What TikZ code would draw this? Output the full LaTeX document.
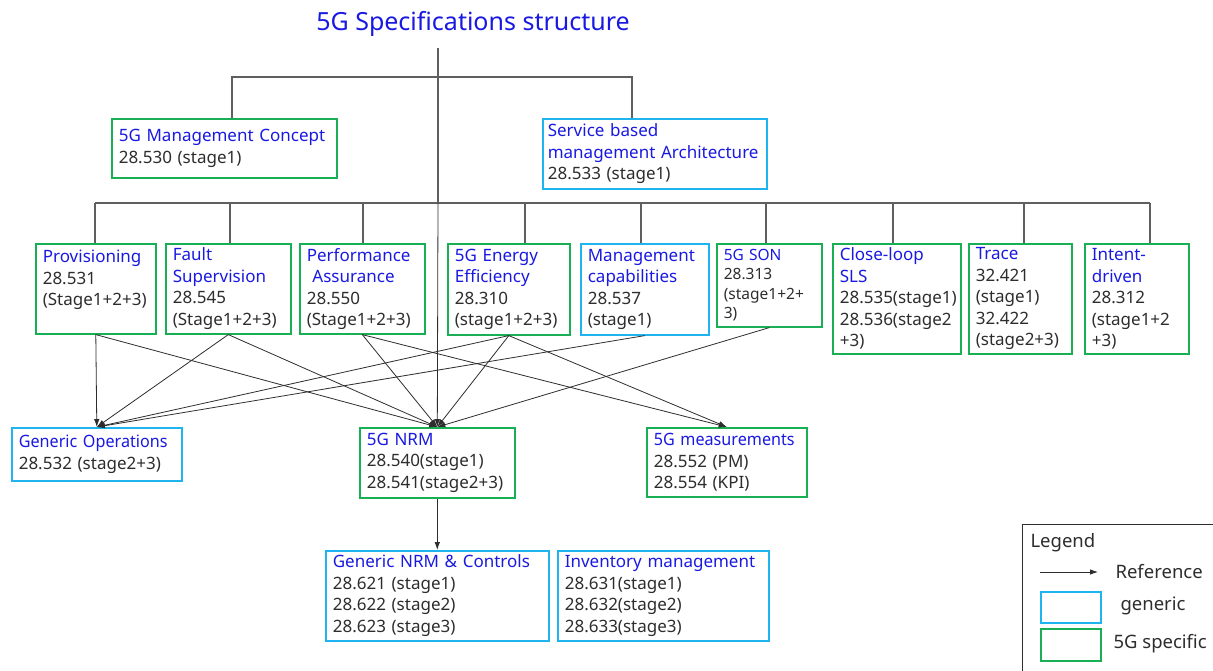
\documentclass[tikz,border=0pt]{standalone}
\usepackage{fontspec}
\setmainfont{Noto Sans}
\newfontfamily\narrowfont[FakeStretch=0.95]{Noto Sans}
\usepackage{xcolor}
\usepackage{tikz}
\usetikzlibrary{arrows.meta}
\definecolor{specblue}{RGB}{25,25,225}
\definecolor{genericcyan}{RGB}{30,180,240}
\definecolor{specgreen}{RGB}{25,175,85}
\definecolor{treegray}{RGB}{95,95,95}
\definecolor{bodygray}{RGB}{45,45,45}

\begin{document}
\begin{tikzpicture}[x=1pt,y=-1pt,every path/.style={>={Latex[length=8pt,width=5.5pt]}},
    box/.style={draw,line width=1.6pt,anchor=north west,align=left,inner xsep=7pt,inner ysep=3pt,font=\fontsize{17}{21.5}\selectfont,text=bodygray},
    genbox/.style={box,draw=genericcyan},
    fivegbox/.style={box,draw=specgreen},
    tree/.style={draw=treegray,line width=1.6pt},
    ref/.style={->,draw=bodygray,line width=0.8pt},
    legendtext/.style={anchor=west,font=\fontsize{18.5}{22}\selectfont,text=bodygray}]
    \useasboundingbox (0,0) rectangle (1213,670);
    \clip (0,0) rectangle (1213,670);

    \node[font=\fontsize{25}{30}\selectfont,text=specblue] (title) at (473,24) {5G Specifications structure};

    % first level
    \node[fivegbox,text width=211pt,minimum height=59pt] (concept) at (111,118) {\textcolor{specblue}{5G Management Concept}\\28.530 (stage1)};
    \node[genbox,inner xsep=5pt,text width=214pt,minimum height=70pt] (sba) at (542,118) {\textcolor{specblue}{Service based}\\\textcolor{specblue}{management Architecture}\\28.533 (stage1)};

    % second level
    \node[fivegbox,text width=106pt,minimum height=90pt] (prov) at (35,243) {\textcolor{specblue}{Provisioning}\\28.531\\(Stage1+2+3)\\~};
    \node[fivegbox,text width=111pt,minimum height=90pt] (fs) at (165,243) {\textcolor{specblue}{Fault}\\\textcolor{specblue}{Supervision}\\28.545\\(Stage1+2+3)};
    \node[fivegbox,text width=111pt,minimum height=90pt] (pa) at (299,243) {\textcolor{specblue}{Performance}\\\textcolor{specblue}{\ Assurance}\\28.550\\(Stage1+2+3)};
    \node[fivegbox,text width=108pt,minimum height=91pt] (ee) at (447,243) {\textcolor{specblue}{5G Energy}\\\textcolor{specblue}{Efficiency}\\28.310\\(stage1+2+3)};
    \node[genbox,text width=114pt,minimum height=91pt] (mc) at (580,243) {\textcolor{specblue}{Management}\\\textcolor{specblue}{capabilities}\\28.537\\(stage1)};
    \node[fivegbox,text width=91pt,minimum height=83pt,font=\fontsize{15.5}{19.5}\selectfont] (son) at (716,243) {\textcolor{specblue}{5G SON}\\28.313\\(stage1+2+\\3)};
    \node[fivegbox,text width=114pt,minimum height=110pt] (cl) at (832,243) {\textcolor{specblue}{Close-loop}\\\textcolor{specblue}{SLS}\\28.535(stage1)\\28.536(stage2\\+3)};
    \node[fivegbox,text width=89pt,minimum height=110pt] (trace) at (968,243) {\textcolor{specblue}{Trace}\\32.421\\(stage1)\\32.422\\(stage2+3)};
    \node[fivegbox,text width=90pt,minimum height=110pt] (intent) at (1084,243) {\textcolor{specblue}{Intent-}\\\textcolor{specblue}{driven}\\28.312\\(stage1+2\\+3)};

    % third level
    \node[genbox,text width=156pt,minimum height=53pt] (genops) at (11,427) {\textcolor{specblue}{\narrowfont Generic Operations}\\28.532 (stage2+3)};
    \node[fivegbox,text width=141pt,minimum height=70pt] (nrm) at (359,427) {\textcolor{specblue}{5G NRM}\\28.540(stage1)\\28.541(stage2+3)};
    \node[fivegbox,text width=146pt,minimum height=69pt] (meas) at (646,427) {\textcolor{specblue}{\narrowfont 5G measurements}\\28.552 (PM)\\28.554 (KPI)};

    % fourth level
    \node[genbox,text width=209pt,minimum height=90pt] (gnc) at (325,550) {\textcolor{specblue}{Generic NRM \& Controls}\\28.621 (stage1)\\28.622 (stage2)\\28.623 (stage3)};
    \node[genbox,text width=197pt,minimum height=90pt] (inv) at (557,550) {\textcolor{specblue}{Inventory management}\\28.631(stage1)\\28.632(stage2)\\28.633(stage3)};

    % tree
    \coordinate (trunk) at (438,48);
    \coordinate (hub) at (438,203);
    \coordinate (b1) at (232,77);
    \coordinate (b2) at (632,77);
    \draw[tree] (trunk) -- (hub);
    \draw[tree] (concept.north -| b1) |- (b2) -- (sba.north -| b2);
    \draw[tree] (95,203) -- (1150,203);
    \foreach \n/\x in {prov/95,fs/230,pa/363,ee/525,mc/641,son/766,cl/893,trace/1024,intent/1150}
        \draw[tree] (\x,203) -- (\n.north -| \x,203);

    % references
    \draw[ref] (hub) -- (nrm.north);
    \draw[ref] (prov.south) -- (genops.north);
    \draw[ref] (prov.south) -- (nrm.north);
    \draw[ref] (fs.south) -- (genops.north);
    \draw[ref] (fs.south) -- (nrm.north);
    \draw[ref] (pa.south) -- (nrm.north);
    \draw[ref] (pa.south) -- (meas.north);
    \draw[ref] (ee.south) -- (genops.north);
    \draw[ref] (ee.south) -- (nrm.north);
    \draw[ref] (ee.south) -- (meas.north);
    \draw[ref] (mc.south) -- (genops.north);
    \draw[ref] (son.south) -- (nrm.north);
    \draw[ref] (nrm.south) -- (gnc.north -| nrm.south);

    % legend
    \node[draw=bodygray,line width=1pt,minimum width=230pt,minimum height=180pt,anchor=north west] (legend) at (1022,524) {};
    \node[legendtext] (legendtitle) at (1027,543) {Legend};
    \coordinate (refa) at (1040,572);
    \coordinate (refb) at (1098,572);
    \draw[ref] (refa) -- (refb);
    \node[legendtext] (reftext) at (1112,572) {Reference};
    \node[draw=genericcyan,line width=1.6pt,minimum width=60pt,minimum height=31pt,anchor=north west] (genkey) at (1040,591) {};
    \node[legendtext] (gentext) at (1117,606) {generic};
    \node[draw=specgreen,line width=1.6pt,minimum width=60pt,minimum height=32pt,anchor=north west] (speckey) at (1040,628) {};
    \node[legendtext] (spectext) at (1110,644) {5G specific};
\end{tikzpicture}
\end{document}
